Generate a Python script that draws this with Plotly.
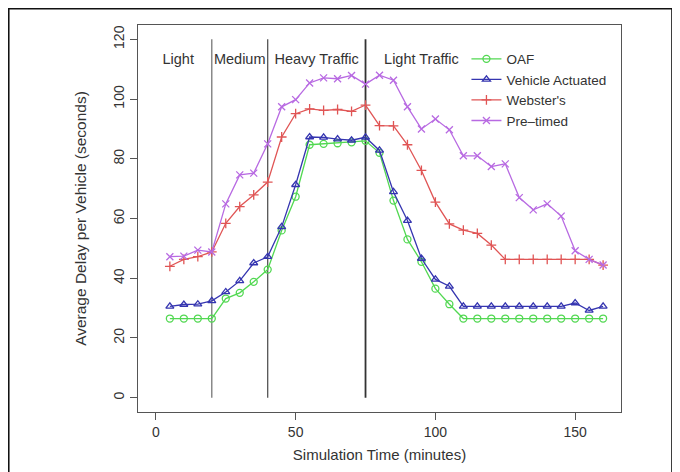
import plotly.graph_objects as go

time_min = [5, 10, 15, 20, 25, 30, 35, 40, 45, 50, 55, 60, 65, 70, 75, 80,
            85, 90, 95, 100, 105, 110, 115, 120, 125, 130, 135, 140, 145, 150, 155, 160]

oaf = [26.5, 26.5, 26.5, 26.5, 33.2, 35.1, 38.8, 42.9, 56.0, 67.3, 84.7, 85.0,
       85.2, 85.5, 86.0, 82.0, 66.0, 53.0, 45.5, 36.5, 31.3, 26.5, 26.5, 26.5,
       26.5, 26.5, 26.5, 26.5, 26.5, 26.5, 26.5, 26.5]

vehicle_actuated = [30.6, 31.2, 31.3, 32.4, 35.4, 39.1, 45.1, 47.2, 57.2, 71.3,
                    87.3, 87.2, 86.6, 86.2, 87.2, 82.8, 68.9, 59.3, 46.6, 39.6,
                    37.3, 30.6, 30.6, 30.6, 30.6, 30.6, 30.6, 30.6, 30.6, 31.7,
                    29.2, 30.6]

websters = [44.0, 46.3, 47.2, 48.8, 58.4, 64.0, 67.9, 72.2, 87.3, 95.1, 96.7,
            96.2, 96.5, 95.9, 98.0, 91.1, 91.0, 84.7, 76.1, 65.5, 58.2, 56.1,
            55.0, 51.1, 46.3, 46.3, 46.3, 46.3, 46.3, 46.3, 46.3, 44.4]

pre_timed = [47.2, 47.4, 49.4, 48.8, 64.9, 74.6, 75.2, 85.0, 97.4, 99.8, 105.4,
             107.1, 106.8, 107.9, 105.0, 108.0, 106.3, 97.4, 90.0, 93.3, 89.7,
             81.0, 81.0, 77.4, 78.3, 67.0, 62.9, 64.9, 60.8, 49.2, 46.3, 44.4]

phase_bounds = [20, 40, 75]
phase_labels = ["Light", "Medium", "Heavy Traffic", "Light Traffic"]
phase_label_x = [8, 30, 57.5, 95]
phase_label_y = 113

x_ticks = [0, 50, 100, 150]
y_ticks = [0, 20, 40, 60, 80, 100, 120]

FONT = "Liberation Sans, Arial, Helvetica, sans-serif"
TXT = "#333333"

series = [
    ("OAF", oaf, "#52d852", "circle-open"),
    ("Vehicle Actuated", vehicle_actuated, "#3535b0", "triangle-up-open"),
    ("Webster's", websters, "#e05555", "cross-thin-open"),
    ("Pre\u2013timed", pre_timed, "#b86ae2", "x-thin-open"),
]

fig = go.Figure()

for b, w, c in zip(phase_bounds, [1.3, 1.3, 1.8], ["#777777", "#555555", "#333333"]):
    fig.add_trace(go.Scatter(x=[b, b], y=[0, 120], mode="lines",
                             line=dict(color=c, width=w), showlegend=False,
                             hoverinfo="skip"))

for name, vals, color, sym in series:
    fig.add_trace(go.Scatter(
        x=time_min, y=vals, name=name, mode="lines+markers",
        line=dict(color=color, width=1.3),
        marker=dict(symbol=sym, size=7, color=color, line=dict(color=color, width=1.3)),
    ))

fig.add_trace(go.Scatter(
    x=phase_label_x, y=[phase_label_y] * len(phase_labels), text=phase_labels,
    mode="text", textfont=dict(family=FONT, size=14.5, color=TXT),
    showlegend=False, hoverinfo="skip"))

axis_common = dict(
    showgrid=False, zeroline=False, showline=True, mirror=True,
    linecolor="#555555", linewidth=1.3, ticks="outside", ticklen=7,
    tickcolor="#555555", tickwidth=1.2,
    tickfont=dict(family=FONT, size=14, color=TXT),
)

fig.update_xaxes(range=[-6.4, 166.4], tickvals=x_ticks,
                 title=dict(text="Simulation Time (minutes)",
                            font=dict(family=FONT, size=15, color=TXT), standoff=10),
                 **axis_common)
fig.update_yaxes(range=[-4.8, 124.8], tickvals=y_ticks, tickangle=-90,
                 title=dict(text="Average Delay per Vehicle (seconds)",
                            font=dict(family=FONT, size=15.5, color=TXT), standoff=20),
                 **axis_common)

# outer frame of the figure
fig.add_shape(type="rect", xref="paper", yref="paper",
              x0=-0.268, x1=1.106, y0=-0.3, y1=1.0426,
              line=dict(color="#111111", width=2))

fig.update_layout(
    width=672, height=464,
    margin=dict(l=130, r=59, t=17, b=60, autoexpand=False),
    paper_bgcolor="white", plot_bgcolor="white",
    font=dict(family=FONT, color=TXT),
    legend=dict(x=0.68, y=0.952, xanchor="left", yanchor="top",
                bgcolor="rgba(0,0,0,0)", borderwidth=0,
                font=dict(family=FONT, size=13.5, color=TXT),
                itemwidth=30, tracegroupgap=0),
)

fig.write_html("out.html")
